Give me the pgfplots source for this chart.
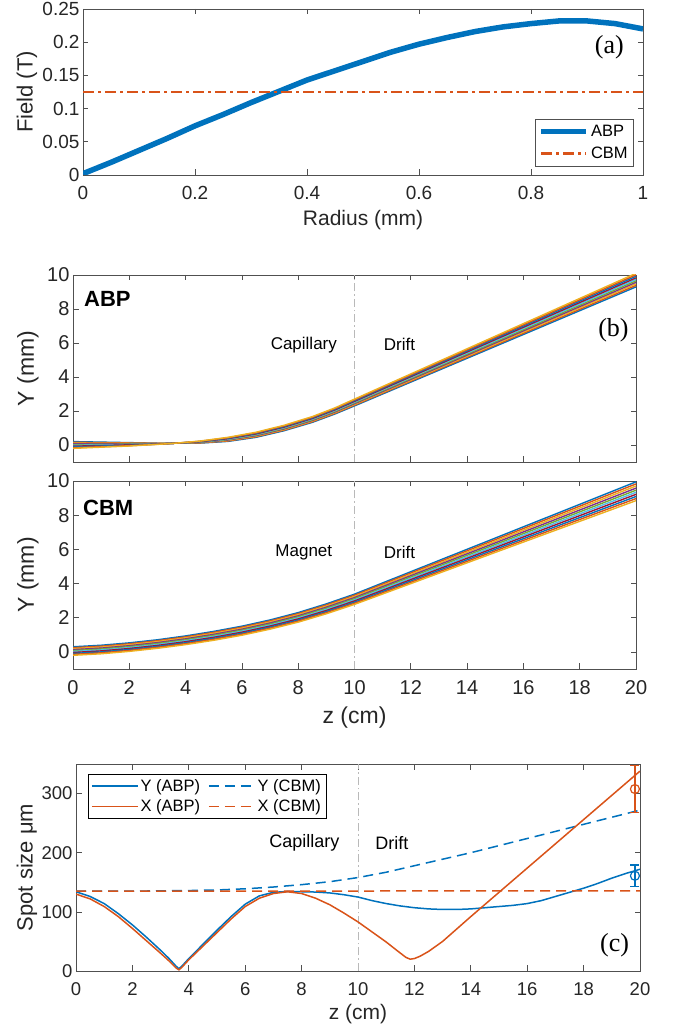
\documentclass[border=0pt]{standalone}
\usepackage{pgfplots}
\pgfplotsset{compat=1.18}
\usepackage{pgfplotstable}
\usepackage{fontspec}
\setmainfont{Liberation Sans}
\newfontfamily\timesfont{Liberation Serif}
\definecolor{mblue}{RGB}{0,114,189}
\definecolor{morange}{RGB}{217,83,25}
\definecolor{myellow}{RGB}{237,177,32}
\definecolor{mpurple}{RGB}{126,47,142}
\definecolor{mgreen}{RGB}{119,172,48}
\definecolor{mcyan}{RGB}{77,190,238}
\definecolor{mred}{RGB}{162,20,47}
\definecolor{axgray}{RGB}{80,80,80}
\definecolor{txtgray}{RGB}{38,38,38}
\definecolor{vgray}{RGB}{185,185,185}

\pgfplotstableread{
z     a1    a2     a3     a4     a5     a6     a7     a8     a9     a10
0     0.20  0.16   0.11   0.07   0.02   -0.02  -0.07  -0.11  -0.16  -0.20
1     0.17  0.14   0.10   0.07   0.04   0.00   -0.03  -0.06  -0.10  -0.13
2     0.14  0.12   0.10   0.07   0.05   0.03   0.01   -0.02  -0.04  -0.06
3     0.105 0.097  0.09   0.082  0.074  0.066  0.058  0.05   0.043  0.035
3.6   0.10  0.10   0.10   0.10   0.10   0.10   0.10   0.10   0.10   0.10
4.5   0.11  0.123  0.136  0.15   0.163  0.177  0.19   0.204  0.217  0.23
5.5   0.21  0.236  0.263  0.29   0.317  0.343  0.37   0.397  0.424  0.45
6.5   0.45  0.483  0.516  0.55   0.583  0.617  0.65   0.684  0.717  0.75
7.5   0.84  0.875  0.91   0.947  0.982  1.018  1.053  1.09   1.125  1.16
8.5   1.33  1.367  1.405  1.444  1.481  1.519  1.556  1.595  1.633  1.67
9.3   1.82  1.86   1.90   1.94   1.98   2.02   2.06   2.10   2.14   2.18
10    2.30  2.344  2.388  2.434  2.478  2.522  2.566  2.612  2.656  2.70
15    5.80  5.866  5.932  6.001  6.067  6.133  6.199  6.268  6.334  6.40
20    9.30  9.388  9.476  9.568  9.656  9.744  9.832  9.924  10.012 10.10
}\abptable

\pgfplotstableread{
z     a1    a2     a3     a4     a5     a6     a7     a8     a9     a10
0     0.30  0.245  0.19   0.133  0.078  0.023  -0.033 -0.09  -0.145 -0.20
1     0.39  0.335  0.28   0.223  0.168  0.113  0.058  0.0    -0.055 -0.11
2     0.53  0.475  0.42   0.363  0.308  0.253  0.198  0.14   0.085  0.03
3     0.71  0.655  0.60   0.543  0.488  0.433  0.378  0.32   0.265  0.21
4     0.935 0.879  0.823  0.764  0.708  0.652  0.596  0.537  0.481  0.425
5     1.20  1.143  1.086  1.026  0.969  0.911  0.854  0.794  0.737  0.68
6     1.505 1.447  1.388  1.327  1.269  1.211  1.153  1.092  1.033  0.975
7     1.87  1.811  1.751  1.689  1.63   1.57   1.511  1.449  1.389  1.33
8     2.30  2.238  2.177  2.112  2.051  1.989  1.928  1.863  1.802  1.74
9     2.81  2.746  2.682  2.616  2.552  2.488  2.424  2.358  2.294  2.23
10    3.38  3.314  3.248  3.179  3.113  3.047  2.981  2.912  2.846  2.78
15    6.66  6.568  6.475  6.379  6.286  6.194  6.101  6.005  5.912  5.82
20    9.95  9.829  9.708  9.582  9.461  9.339  9.218  9.092  8.971  8.85
}\cbmtable

\pgfplotscreateplotcyclelist{matlab}{{mblue},{morange},{myellow},{mpurple},{mgreen},{mcyan},{mred}}

\pgfplotsset{
  base/.style={
    scale only axis,
    axis line style={draw=axgray, line width=0.7pt},
    every tick/.style={draw=axgray, line width=0.7pt},
    major tick length=5.5pt,
    tick align=inside,
    /pgf/number format/assume math mode=true,
    /pgf/number format/fixed,
    tick label style={text=txtgray},
    xticklabel style={yshift=-8pt},
  },
  vline/.style={vgray, line width=0.8pt, dash pattern=on 8pt off 3pt on 1.5pt off 3pt, forget plot},
}

\begin{document}
\begin{tikzpicture}
\useasboundingbox (0pt,0pt) rectangle (672pt,1027pt);

% ---------- panel (a)
\begin{axis}[base,
  at={(83pt,852pt)}, anchor=south west, width=560pt, height=166pt,
  xmin=0, xmax=1, ymin=0, ymax=0.25,
  xtick={0,0.2,0.4,0.6,0.8,1}, ytick={0,0.05,0.1,0.15,0.2,0.25},
  tick label style={font=\fontsize{19}{19}\selectfont},
  xlabel={Radius (mm)}, ylabel={Field (T)},
  every axis x label/.style={at={(axis description cs:0.5,-0.27)}, anchor=center, font=\fontsize{21}{21}\selectfont, text=txtgray},
  every axis y label/.style={at={(axis description cs:-0.1,0.5)}, anchor=center, rotate=90, font=\fontsize{22}{22}\selectfont, text=txtgray},
  legend style={at={(0.982,0.054)}, anchor=south east, draw=axgray, font=\fontsize{16.5}{16.5}\selectfont, inner xsep=3pt, inner ysep=4pt, row sep=5pt},
  legend cell align=left,
  legend image code/.code={\draw[#1] (0pt,0pt) -- (45pt,0pt);},
]
\addplot[mblue, line width=5.5pt] coordinates {
(0,0.002) (0.05,0.019) (0.1,0.037) (0.15,0.055) (0.2,0.074) (0.25,0.091)
(0.3,0.109) (0.35,0.126) (0.4,0.143) (0.45,0.157) (0.5,0.171) (0.55,0.185)
(0.6,0.197) (0.65,0.207) (0.7,0.216) (0.75,0.223) (0.8,0.228) (0.85,0.232)
(0.9,0.232) (0.95,0.228) (1.0,0.220)};
\addlegendentry{ABP}
\addplot[morange, line width=2.5pt, dash pattern=on 11pt off 4pt on 3pt off 4pt] coordinates {(0,0.125) (1,0.125)};
\addlegendentry{CBM}
\node[font=\timesfont\fontsize{26}{26}\selectfont, text=black] at (axis cs:0.94,0.193) {(a)};
\end{axis}

% ---------- panel (b) ABP
\begin{axis}[base,
  at={(73pt,565pt)}, anchor=south west, width=563pt, height=187pt,
  xmin=0, xmax=20, ymin=-1, ymax=10,
  xtick={0,2,...,20}, xticklabels={}, ytick={0,2,4,6,8,10},
  tick label style={font=\fontsize{20}{20}\selectfont},
  ylabel={Y (mm)},
  every axis y label/.style={at={(axis description cs:-0.08,0.5)}, anchor=center, rotate=90, font=\fontsize{23}{23}\selectfont, text=txtgray},
  cycle list name=matlab,
]
\addplot[vline] coordinates {(10,-1) (10,10)};
\pgfplotsinvokeforeach{1,...,10}{
  \addplot+[no markers, line width=1.4pt] table[x=z, y=a#1] {\abptable};
}
\node[font=\bfseries\fontsize{22}{22}\selectfont, text=black] at (axis cs:1.22,8.6) {ABP};
\node[font=\fontsize{17}{17}\selectfont, text=black] at (axis cs:8.2,5.9) {Capillary};
\node[font=\fontsize{17}{17}\selectfont, text=black] at (axis cs:11.6,5.9) {Drift};
\node[font=\timesfont\fontsize{26}{26}\selectfont, text=black] at (axis cs:19.2,6.76) {(b)};
\end{axis}

% ---------- panel (b) CBM
\begin{axis}[base,
  at={(73pt,358pt)}, anchor=south west, width=563pt, height=188pt,
  xmin=0, xmax=20, ymin=-1, ymax=10,
  xtick={0,2,...,20}, ytick={0,2,4,6,8,10},
  tick label style={font=\fontsize{20}{20}\selectfont},
  xlabel={z (cm)}, ylabel={Y (mm)},
  every axis x label/.style={at={(axis description cs:0.5,-0.26)}, anchor=center, font=\fontsize{23}{23}\selectfont, text=txtgray},
  every axis y label/.style={at={(axis description cs:-0.08,0.5)}, anchor=center, rotate=90, font=\fontsize{23}{23}\selectfont, text=txtgray},
  cycle list name=matlab,
]
\addplot[vline] coordinates {(10,-1) (10,10)};
\pgfplotsinvokeforeach{1,...,10}{
  \addplot+[no markers, line width=1.4pt] table[x=z, y=a#1] {\cbmtable};
}
\node[font=\bfseries\fontsize{22}{22}\selectfont, text=black] at (axis cs:1.25,8.45) {CBM};
\node[font=\fontsize{17}{17}\selectfont, text=black] at (axis cs:8.2,5.83) {Magnet};
\node[font=\fontsize{17}{17}\selectfont, text=black] at (axis cs:11.6,5.83) {Drift};
\end{axis}

% ---------- panel (c)
\begin{axis}[base,
  at={(76pt,56pt)}, anchor=south west, width=564pt, height=207pt,
  xmin=0, xmax=20, ymin=0, ymax=350,
  xtick={0,2,...,20}, ytick={0,100,200,300},
  tick label style={font=\fontsize{18.5}{18.5}\selectfont},
  xlabel={z (cm)}, ylabel={Spot size μm},
  every axis x label/.style={at={(axis description cs:0.5,-0.208)}, anchor=center, font=\fontsize{21}{21}\selectfont, text=txtgray},
  every axis y label/.style={at={(axis description cs:-0.087,0.5)}, anchor=center, rotate=90, font=\fontsize{22}{22}\selectfont, text=txtgray},
  legend style={at={(0.021,0.952)}, anchor=north west, draw=black, font=\fontsize{16.5}{16.5}\selectfont, inner xsep=3pt, inner ysep=3pt, row sep=3pt},
  legend columns=2,
  legend cell align=left,
  legend image code/.code={\draw[#1] (0pt,0pt) -- (46pt,0pt);},
  /tikz/every even column/.append style={column sep=6pt},
]
\addplot[vline] coordinates {(10,0) (10,350)};
\addplot[mblue, line width=1.5pt] coordinates {
(0,134) (0.5,126) (1,114) (1.5,97) (2,78) (2.5,57) (3,35) (3.3,21) (3.55,8) (3.65,4)
(3.75,8) (4,21) (4.5,45) (5,69) (5.5,92) (6,113) (6.5,127) (7,133) (7.5,134.5) (8,134)
(8.5,133.5) (9,132) (9.5,129) (10,125) (10.5,119) (11,114) (11.5,110) (12,107) (12.5,105)
(13,104) (13.5,104) (14,105) (14.5,107) (15,109) (15.5,111) (16,114) (16.5,119) (17,126)
(17.5,133) (18,140) (18.5,148) (19,157) (19.5,165) (20,172)};
\addlegendentry{Y (ABP)}
\addplot[mblue, line width=1.5pt, dash pattern=on 10pt off 6pt] coordinates {
(0,135) (2,135) (4,136) (5,137) (6,139) (7,142) (8,146) (9,151) (10,158) (11,167)
(12,178) (13,189) (14,200) (15,212) (16,224) (17,236) (18,248) (19,260) (20,272)};
\addlegendentry{Y (CBM)}
\addplot[morange, line width=1.5pt] coordinates {
(0,130) (0.5,122) (1,109) (1.5,92) (2,72) (2.5,51) (3,30) (3.3,17) (3.55,5) (3.65,2)
(3.75,6) (4,19) (4.5,42) (5,65) (5.5,88) (6,109) (6.5,123) (7,131) (7.5,134) (8,131)
(8.5,123) (9,112) (9.5,98) (10,83) (10.5,66) (11,49) (11.4,34) (11.7,23) (11.85,20)
(12,21) (12.2,25) (12.5,33) (13,50) (13.5,71) (14,92) (15,133) (16,174) (17,215)
(18,256) (19,297) (20,338)};
\addlegendentry{X (ABP)}
\addplot[morange, line width=1.5pt, dash pattern=on 10pt off 6pt] coordinates {(0,135) (20,135.5)};
\addlegendentry{X (CBM)}
\addplot[morange, line width=1.2pt, only marks, mark=o, mark size=4.5pt, forget plot,
  error bars/.cd, y dir=both, y explicit,
  error bar style={line width=1.5pt},
  error mark options={rotate=90, mark size=4.5pt, line width=1.5pt}]
  coordinates {(19.82,307.7) +- (0,40)};
\addplot[mblue, line width=1.2pt, only marks, mark=o, mark size=4.5pt, forget plot,
  error bars/.cd, y dir=both, y explicit,
  error bar style={line width=1.5pt},
  error mark options={rotate=90, mark size=4.5pt, line width=1.5pt}]
  coordinates {(19.82,161) +- (0,18.5)};
\node[font=\fontsize{18}{18}\selectfont, text=black] at (axis cs:8.1,216) {Capillary};
\node[font=\fontsize{18}{18}\selectfont, text=black] at (axis cs:11.2,216) {Drift};
\node[font=\timesfont\fontsize{26}{26}\selectfont, text=black] at (axis cs:19.1,44) {(c)};
\end{axis}
\end{tikzpicture}
\end{document}
